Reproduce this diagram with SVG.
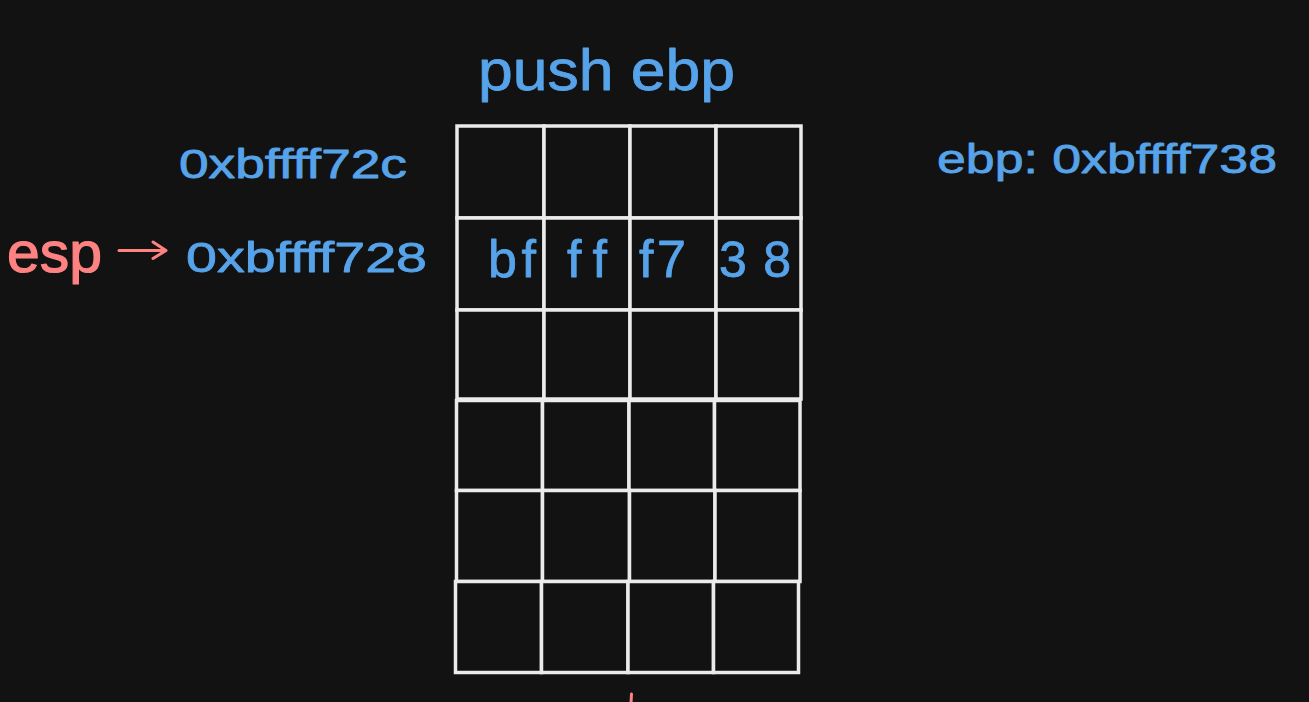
<svg xmlns="http://www.w3.org/2000/svg" width="1309" height="702" viewBox="0 0 1309 702">
<defs>
<style>
.bg{fill:#121212}
.cell{fill:#121212;stroke:#ebebeb;stroke-width:3.5}
text{font-family:"Liberation Sans","DejaVu Sans",sans-serif;font-variant-ligatures:none;font-feature-settings:"liga" 0;stroke-linejoin:round}
.blue{fill:#56a3e9;stroke:#56a3e9;stroke-width:0.8}
.red{fill:#ff8282;stroke:#ff8282;stroke-width:1.2}
.rl{stroke:#ff8282;stroke-width:3;fill:none;stroke-linecap:round;stroke-linejoin:round}
</style>
</defs>
<rect class="bg" x="0" y="0" width="1309" height="702"/>
<g id="title"><text class="blue" x="478" y="90" font-size="58" textLength="257" lengthAdjust="spacingAndGlyphs">push ebp</text></g>
<g id="stack">
<g id="row1">
<rect class="cell" x="457" y="126" width="87" height="92"/>
<rect class="cell" x="544" y="126" width="86" height="92"/>
<rect class="cell" x="630" y="126" width="86" height="92"/>
<rect class="cell" x="716" y="126" width="85" height="92"/>
</g>
<g id="row2">
<rect class="cell" x="457" y="218" width="87" height="92"/>
<rect class="cell" x="544" y="218" width="86" height="92"/>
<rect class="cell" x="630" y="218" width="86" height="92"/>
<rect class="cell" x="716" y="218" width="85" height="92"/>
<text class="blue" x="488" y="277" font-size="52" textLength="48" lengthAdjust="spacing">bf</text>
<text class="blue" x="567" y="277" font-size="52" textLength="40" lengthAdjust="spacing">ff</text>
<text class="blue" x="639" y="277" font-size="52" textLength="47" lengthAdjust="spacing">f7</text>
<text class="blue" x="719" y="277" font-size="50" textLength="72" lengthAdjust="spacing">38</text>
</g>
<g id="row3">
<rect class="cell" x="457" y="310" width="87" height="89"/>
<rect class="cell" x="544" y="310" width="86" height="89"/>
<rect class="cell" x="630" y="310" width="86" height="89"/>
<rect class="cell" x="716" y="310" width="85" height="89"/>
</g>
<g id="row4">
<rect class="cell" x="456.5" y="400.5" width="86" height="90"/>
<rect class="cell" x="542.5" y="400.5" width="86.5" height="90"/>
<rect class="cell" x="629" y="400.5" width="85.5" height="90"/>
<rect class="cell" x="714.5" y="400.5" width="85.5" height="90"/>
</g>
<g id="row5">
<rect class="cell" x="456.5" y="490.5" width="86" height="91"/>
<rect class="cell" x="542.5" y="490.5" width="87" height="91"/>
<rect class="cell" x="629.5" y="490.5" width="85.5" height="91"/>
<rect class="cell" x="715" y="490.5" width="85" height="91"/>
</g>
<g id="row6">
<rect class="cell" x="455.5" y="581.5" width="86" height="91"/>
<rect class="cell" x="541.5" y="581.5" width="86.5" height="91"/>
<rect class="cell" x="628" y="581.5" width="85.5" height="91"/>
<rect class="cell" x="713.5" y="581.5" width="85" height="91"/>
</g>
</g>
<g id="addr1"><text class="blue" x="179" y="178" font-size="40" textLength="228" lengthAdjust="spacingAndGlyphs">0xbffff72c</text></g>
<g id="addr2"><text class="blue" x="186" y="272" font-size="43" textLength="241" lengthAdjust="spacingAndGlyphs">0xbffff728</text></g>
<g id="esp"><text class="red" x="7" y="272" font-size="58" textLength="95" lengthAdjust="spacingAndGlyphs">esp</text></g>
<g id="ebp"><text class="blue" x="937" y="173" font-size="40" textLength="340" lengthAdjust="spacingAndGlyphs">ebp: 0xbffff738</text></g>
<g id="connectors">
<path class="rl" d="M119 250.5 L166 250.5 M153 242 L166 250.5 L153 258.5"/>
</g>
<path class="rl" d="M631.5 694 L631 703" stroke-width="4"/>
</svg>
